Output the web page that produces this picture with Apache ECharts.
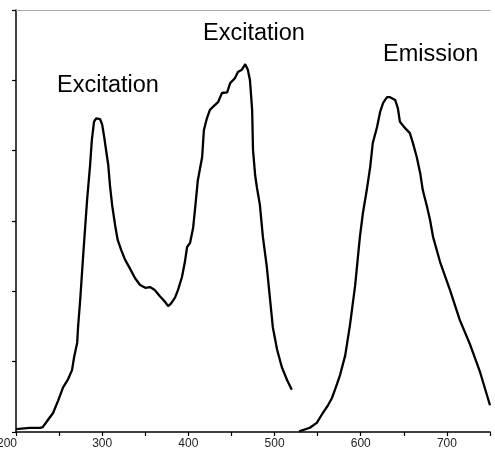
<!DOCTYPE html>
<html><head><meta charset="utf-8">
<script src="https://cdn.jsdelivr.net/npm/echarts@6/dist/echarts.min.js"></script>
<style>html,body{margin:0;padding:0;background:#fff}#c{width:495px;height:459px}</style>
</head><body><div id="c"></div>
<script>
// Excitation spectrum: [wavelength nm, intensity]
const excitation = [
[200,0.04],[216,0.06],[228,0.06],[231,0.07],[237,0.17],[243,0.27],[249,0.45],[254.5,0.63],[260,0.74],[265,0.88],
[267.5,1.07],[271,1.27],[272,1.49],[274.5,1.88],[278,2.52],[282.5,3.3],[286,3.8],[288,4.15],[290.5,4.41],[293,4.46],
[295,4.48],[297.5,4.45],[300,4.37],[302,4.22],[304.5,4.01],[307,3.8],[309,3.51],[311.5,3.23],[315,2.94],[318,2.73],
[322,2.59],[326.5,2.45],[332,2.33],[338,2.19],[344,2.09],[350,2.05],[355.5,2.06],[361,2.02],[367,1.93],[373,1.85],
[376.5,1.79],[380,1.83],[384.5,1.91],[388,2.02],[392.5,2.2],[396,2.42],[398.5,2.63],[402,2.69],[405.5,2.9],[408,3.2],
[411,3.58],[416,3.91],[418,4.29],[421.5,4.46],[425,4.58],[430,4.64],[434.5,4.69],[439,4.82],[445,4.83],[448.5,4.96],
[454,5.03],[457.5,5.12],[462,5.15],[466,5.23],[469,5.15],[471.5,5.0],[474,4.58],[475,4.01],[477.5,3.65],[479.5,3.48],
[483,3.23],[486.5,2.77],[491,2.35],[494.5,1.92],[498,1.49],[503,1.17],[508.5,0.92],[514.5,0.74],[520,0.6]
];
// Emission spectrum
const emission = [
[528.5,0.01],[541,0.06],[549,0.13],[556,0.27],[562,0.38],[566.5,0.48],[571,0.63],[576,0.81],[582,1.09],[587.5,1.52],
[593.5,2.08],[599,2.77],[602.5,3.11],[607,3.44],[611,3.77],[614,4.11],[619,4.34],[622.5,4.55],[626,4.68],[630.5,4.76],
[634,4.76],[640,4.72],[643,4.61],[645.5,4.41],[651.5,4.32],[657,4.25],[660.5,4.11],[665,3.91],[669,3.68],[672,3.44],
[677,3.2],[680.5,3.01],[684,2.77],[692,2.42],[703.5,2.02],[715,1.59],[727,1.24],[738.5,0.85],[750,0.38]
];
const labels = ['Excitation','Excitation','Emission'];

const chart = echarts.init(document.getElementById('c'));
const font = '"Liberation Sans", Arial, sans-serif';
chart.setOption({
  animation:false,
  grid:{left:16,right:5,top:10,bottom:27,containLabel:false,outerBoundsMode:'none'},
  xAxis:[{
    type:'value',min:200,max:750,interval:50,
    axisLine:{lineStyle:{color:'#000',width:1.5}},
    axisTick:{length:4,lineStyle:{color:'#000',width:1.2}},
    splitLine:{show:false},
    axisLabel:{color:'#222',fontSize:12,fontFamily:font,margin:6,hideOverlap:false,
      formatter:v=>v===200?'{l|200}':(v%100===0&&v<750?String(v):''),
      rich:{l:{padding:[0,18,0,0],fontSize:12,fontFamily:font,color:'#222'}}}
  },{
    type:'value',position:'top',min:200,max:750,
    axisLine:{show:true,lineStyle:{color:'#a8a8a8',width:1.2}},
    axisTick:{show:false},axisLabel:{show:false},splitLine:{show:false}
  }],
  yAxis:{type:'value',min:0,max:6,interval:1,
    axisLine:{show:true,lineStyle:{color:'#000',width:1.5}},
    axisTick:{show:true,length:4,lineStyle:{color:'#000',width:1.2}},
    axisLabel:{show:false},splitLine:{show:false}},
  series:[
    {type:'line',data:excitation,showSymbol:false,lineStyle:{color:'#000',width:2.3},z:3},
    {type:'line',data:emission,showSymbol:false,lineStyle:{color:'#000',width:2.3},z:3}
  ],
  graphic:[
    {type:'text',left:57,top:74,style:{text:labels[0],font:'23.5px '+font,fill:'#000'}},
    {type:'text',left:203,top:22,style:{text:labels[1],font:'23.5px '+font,fill:'#000'}},
    {type:'text',left:383,top:43,style:{text:labels[2],font:'23.5px '+font,fill:'#000'}}
  ]
});
</script></body></html>
